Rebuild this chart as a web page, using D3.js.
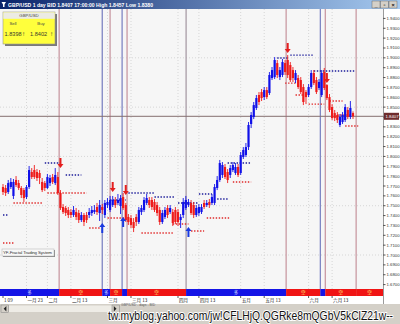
<!DOCTYPE html>
<html><head><meta charset="utf-8">
<script src="https://cdn.jsdelivr.net/npm/d3@7"></script>
<style>body{margin:0;background:#d4d0c8;overflow:hidden}svg{display:block;font-family:"Liberation Sans",Arial,sans-serif}</style>
</head><body><svg id="c" width="400" height="324"></svg>
<script>
const open=[1.7690,1.7680,1.7639,1.7690,1.7599,1.7761,1.7730,1.7680,1.7659,1.7588,
1.7690,1.7842,1.7862,1.7842,1.7832,1.7741,1.7730,1.7680,1.7730,1.7791,
1.7730,1.7791,1.7629,1.7487,1.7477,1.7457,1.7436,1.7406,1.7436,1.7426,
1.7355,1.7406,1.7406,1.7406,1.7426,1.7436,1.7487,1.7426,1.7487,1.7406,
1.7507,1.7457,1.7507,1.7558,1.7528,1.7497,1.7588,1.7507,1.7386,1.7375,
1.7335,1.7386,1.7335,1.7436,1.7457,1.7528,1.7558,1.7558,1.7538,1.7507,
1.7457,1.7335,1.7386,1.7477,1.7436,1.7436,1.7457,1.7436,1.7355,1.7406,
1.7477,1.7507,1.7528,1.7507,1.7406,1.7426,1.7436,1.7528,1.7507,1.7538,
1.7528,1.7528,1.7680,1.7761,1.7812,1.7893,1.7842,1.7812,1.7862,1.7832,
1.7893,1.7832,1.7994,1.8014,1.8095,1.8329,1.8400,1.8491,1.8623,1.8653,
1.8602,1.8673,1.8643,1.8795,1.8805,1.8947,1.8805,1.8826,1.8947,1.8978,
1.8927,1.8876,1.8775,1.8795,1.8775,1.8704,1.8653,1.8623,1.8704,1.8846,
1.8775,1.8694,1.8623,1.8856,1.8724,1.8602,1.8501,1.8440,1.8420,1.8319,
1.8349,1.8369,1.8471,1.8400,1.8440];
const high=[1.7720,1.7710,1.7761,1.7781,1.7771,1.7801,1.7761,1.7700,1.7680,1.7710,
1.7903,1.7882,1.7913,1.7872,1.7862,1.7781,1.7751,1.7822,1.7812,1.7822,
1.7882,1.7842,1.7659,1.7517,1.7497,1.7487,1.7467,1.7497,1.7477,1.7457,
1.7436,1.7426,1.7436,1.7477,1.7497,1.7507,1.7528,1.7558,1.7517,1.7558,
1.7578,1.7599,1.7599,1.7588,1.7619,1.7609,1.7629,1.7528,1.7416,1.7406,
1.7375,1.7416,1.7487,1.7507,1.7588,1.7619,1.7588,1.7588,1.7568,1.7538,
1.7487,1.7457,1.7487,1.7507,1.7507,1.7467,1.7487,1.7467,1.7416,1.7578,
1.7599,1.7568,1.7558,1.7538,1.7507,1.7517,1.7517,1.7558,1.7558,1.7568,
1.7619,1.7720,1.7801,1.7964,1.7943,1.7923,1.7872,1.7913,1.7943,1.7933,
1.7923,1.8045,1.8095,1.8136,1.8349,1.8450,1.8552,1.8623,1.8653,1.8684,
1.8704,1.8704,1.8856,1.8907,1.9008,1.8978,1.8907,1.8988,1.8978,1.9028,
1.8957,1.8907,1.8876,1.8826,1.8805,1.8734,1.8673,1.8734,1.8876,1.8876,
1.8805,1.8785,1.8876,1.8897,1.8734,1.8633,1.8531,1.8471,1.8450,1.8430,
1.8450,1.8531,1.8501,1.8562,1.8457];
const low=[1.7609,1.7599,1.7619,1.7670,1.7568,1.7690,1.7659,1.7578,1.7538,1.7568,
1.7670,1.7771,1.7771,1.7751,1.7720,1.7639,1.7649,1.7670,1.7700,1.7720,
1.7710,1.7609,1.7457,1.7416,1.7396,1.7375,1.7375,1.7386,1.7355,1.7325,
1.7335,1.7294,1.7325,1.7375,1.7396,1.7416,1.7406,1.7345,1.7416,1.7375,
1.7477,1.7436,1.7487,1.7477,1.7507,1.7416,1.7457,1.7335,1.7305,1.7274,
1.7233,1.7294,1.7315,1.7406,1.7436,1.7507,1.7477,1.7457,1.7436,1.7396,
1.7305,1.7315,1.7365,1.7375,1.7416,1.7294,1.7315,1.7294,1.7274,1.7375,
1.7457,1.7487,1.7406,1.7375,1.7386,1.7396,1.7416,1.7467,1.7487,1.7477,
1.7507,1.7507,1.7659,1.7741,1.7781,1.7771,1.7730,1.7781,1.7842,1.7812,
1.7791,1.7812,1.7974,1.7994,1.8065,1.8288,1.8379,1.8471,1.8521,1.8562,
1.8572,1.8582,1.8623,1.8775,1.8785,1.8795,1.8775,1.8805,1.8826,1.8795,
1.8755,1.8755,1.8744,1.8684,1.8633,1.8521,1.8531,1.8602,1.8684,1.8724,
1.8633,1.8673,1.8602,1.8673,1.8572,1.8450,1.8369,1.8359,1.8339,1.8298,
1.8329,1.8349,1.8379,1.8379,1.8380];
const close=[1.7639,1.7629,1.7730,1.7741,1.7741,1.7710,1.7680,1.7609,1.7578,1.7690,
1.7862,1.7791,1.7791,1.7781,1.7781,1.7659,1.7680,1.7791,1.7781,1.7741,
1.7812,1.7629,1.7477,1.7436,1.7426,1.7406,1.7406,1.7457,1.7386,1.7355,
1.7406,1.7335,1.7355,1.7436,1.7457,1.7457,1.7436,1.7507,1.7457,1.7528,
1.7538,1.7558,1.7558,1.7507,1.7558,1.7578,1.7477,1.7355,1.7335,1.7305,
1.7274,1.7335,1.7457,1.7477,1.7558,1.7578,1.7507,1.7487,1.7457,1.7426,
1.7335,1.7426,1.7457,1.7406,1.7477,1.7325,1.7335,1.7335,1.7386,1.7538,
1.7558,1.7538,1.7426,1.7406,1.7477,1.7487,1.7487,1.7487,1.7528,1.7507,
1.7588,1.7690,1.7761,1.7933,1.7913,1.7791,1.7761,1.7882,1.7913,1.7893,
1.7812,1.8014,1.8065,1.8095,1.8319,1.8420,1.8521,1.8592,1.8552,1.8592,
1.8673,1.8602,1.8826,1.8876,1.8978,1.8826,1.8876,1.8957,1.8856,1.8826,
1.8775,1.8795,1.8846,1.8704,1.8653,1.8552,1.8602,1.8704,1.8846,1.8744,
1.8653,1.8755,1.8846,1.8694,1.8592,1.8471,1.8389,1.8389,1.8369,1.8400,
1.8420,1.8501,1.8400,1.8491,1.8407];

const tickIdx=[0,9,17,26,40,49,67,75,91,100,117,126];
const tickLabels=["1 09","一月 23","二月","二月 13","三月","三月 13","四月","四月 13","五月","五月 13","六月","六月 13"];
const priceTicks=d3.range(167,195).map(v=>v/100);
const gridPrices=[1.70,1.75,1.80,1.85,1.90];

// fractal levels [startIdx, endIdx, price]
const resistLevels=[[0,2,1.7406],[16,22,1.7933],[24,30,1.7812],[41,47,1.7558],[48,58,1.7629],[58,66,1.7588],[67,75,1.7528],[75,80,1.7619],[82,86,1.7568],[86,95,1.7933],[105,109,1.8998],[110,119,1.9028],[119,135,1.8866]];
const supportLevels=[[0,4,1.7122],[4,15,1.7528],[17,32,1.7629],[33,37,1.7274],[40,47,1.7375],[53,65,1.7223],[65,71,1.7315],[72,77,1.7244],[78,87,1.7375],[88,95,1.7741],[108,112,1.8744],[112,115,1.8623],[117,123,1.8531],[125,130,1.8562],[128,134,1.8420],[131,136,1.8308]];

const sellArrowIdx=[22,42,47,109,124];
const sellArrowPrice=[1.7882,1.7639,1.7609,1.9049,1.8744];
const buyArrowIdx=[38,46,71];
const buyArrowPrice=[1.7325,1.7386,1.7284];

const signalIdx=[21.5,38,41,45.6,47.5,70.1,108.4,121.5,123.4,135.2];
const signalType=["S","B","S","B","S","X","S","B","S","S"];

const bidPrice=1.8407;
const titleText="GBP/USD 1 day BID 1.8407 17:00:00 High 1.8457 Low 1.8380";

const svg=d3.select("#c");
const W=400,H=324, L=0,R=383,T=9,B=289;
const N=open.length;
const x=d3.scaleLinear().domain([0,N-1]).range([3,353]);
const y=d3.scaleLinear().domain([1.67,1.94]).range([284.6,18.4]);

const defs=svg.append("defs");
const g1=defs.append("linearGradient").attr("id","tb");
g1.append("stop").attr("offset","0").attr("stop-color","#0a246a");
g1.append("stop").attr("offset","1").attr("stop-color","#a6caf0");
defs.append("clipPath").attr("id","pc").append("rect").attr("x",L).attr("y",T).attr("width",R-L).attr("height",B-T);

// backgrounds
svg.append("rect").attr("width",W).attr("height",H).attr("fill","#d4d0c8");
svg.append("rect").attr("x",L).attr("y",T).attr("width",R-L).attr("height",B-T).attr("fill","#f6f6f6");
svg.append("rect").attr("x",R).attr("y",T).attr("width",W-R).attr("height",B-T+16).attr("fill","#ffffff");

const plot=svg.append("g").attr("clip-path","url(#pc)");
// grid
plot.selectAll(".hg").data(gridPrices).join("line").attr("x1",L).attr("x2",R)
  .attr("y1",d=>y(d)).attr("y2",d=>y(d)).attr("stroke","#d6d6d6").attr("stroke-dasharray","1,2");
plot.selectAll(".vg").data(tickIdx.slice(1)).join("line").attr("y1",T).attr("y2",B)
  .attr("x1",d=>x(d)).attr("x2",d=>x(d)).attr("stroke","#d6d6d6").attr("stroke-dasharray","1,2");

// signal vertical lines
const sigColor={S:"#c99aa3",B:"#7f86c4",X:"#a89ca6"};
plot.selectAll(".sl").data(signalIdx).join("line").attr("x1",d=>x(d)).attr("x2",d=>x(d))
  .attr("y1",T).attr("y2",B).attr("stroke",(d,i)=>sigColor[signalType[i]]).attr("stroke-width",1.3);

// bid line
plot.append("line").attr("x1",L).attr("x2",R).attr("y1",y(bidPrice)).attr("y2",y(bidPrice)).attr("stroke","#857070").attr("stroke-width",1);

// fractal levels
plot.selectAll(".rl").data(resistLevels).join("line").attr("x1",d=>x(d[0])).attr("x2",d=>x(d[1]))
  .attr("y1",d=>y(d[2])).attr("y2",d=>y(d[2])).attr("stroke","#1c1c9a").attr("stroke-width",1.4).attr("stroke-dasharray","1.4,1.6");
plot.selectAll(".su").data(supportLevels).join("line").attr("x1",d=>x(d[0])).attr("x2",d=>x(d[1]))
  .attr("y1",d=>y(d[2])).attr("y2",d=>y(d[2])).attr("stroke","#e02a2a").attr("stroke-width",1.4).attr("stroke-dasharray","1.4,1.6");

// candles
const idx=d3.range(N);
const col=i=>close[i]>=open[i]?"#1010e8":"#ee1b1b";
plot.selectAll(".wk").data(idx).join("line").attr("x1",i=>x(i)).attr("x2",i=>x(i))
  .attr("y1",i=>y(high[i])).attr("y2",i=>y(low[i])).attr("stroke",col).attr("stroke-width",0.9);
plot.selectAll(".bd").data(idx).join("rect").attr("x",i=>x(i)-1.1).attr("width",2.2)
  .attr("y",i=>y(Math.max(open[i],close[i])))
  .attr("height",i=>Math.max(1,Math.abs(y(open[i])-y(close[i])))).attr("fill",col);

// arrows
const downArrow="M0,0L-3,-4L-1,-4L-1,-10L1,-10L1,-4L3,-4Z";
const upArrow="M0,0L-3,4L-1,4L-1,10L1,10L1,4L3,4Z";
plot.selectAll(".sa").data(sellArrowIdx).join("path").attr("d",downArrow)
  .attr("transform",(d,i)=>`translate(${x(d)},${y(sellArrowPrice[i])})`).attr("fill","#e41e1e");
plot.selectAll(".ba").data(buyArrowIdx).join("path").attr("d",upArrow)
  .attr("transform",(d,i)=>`translate(${x(d)},${y(buyArrowPrice[i])})`).attr("fill","#1a3ae0");

// bottom signal band
const bounds=[0,...signalIdx.map(d=>x(d)),R];
const bandTypes=["B",...signalType.map(t=>t==="X"?"B":t)];
const segs=[];
for(let i=0;i<bounds.length-1;i++){ if(bounds[i+1]>bounds[i]) segs.push({x0:bounds[i],x1:Math.min(bounds[i+1],R),t:bandTypes[i]}); }
svg.selectAll(".bs").data(segs).join("rect").attr("x",d=>d.x0).attr("width",d=>d.x1-d.x0)
  .attr("y",B).attr("height",7).attr("fill",d=>d.t==="S"?"#f01414":"#1414e6");
svg.selectAll(".bt").data(segs.filter(d=>d.x1-d.x0>5)).join("text").attr("x",d=>(d.x0+d.x1)/2).attr("y",B+5.3)
  .attr("text-anchor","middle").attr("font-size",4.5).attr("font-family","Noto Sans CJK SC")
  .attr("fill",d=>d.t==="S"?"#ffe070":"#c8d0ff").text(d=>d.t==="S"?"空":"多");

// date axis
svg.append("rect").attr("x",0).attr("y",B+7).attr("width",R).attr("height",8).attr("fill","#ffffff");
svg.selectAll(".dt").data(tickIdx).join("line").attr("x1",d=>x(d)).attr("x2",d=>x(d)).attr("y1",B+7).attr("y2",B+9).attr("stroke","#555");
svg.selectAll(".dl").data(tickIdx).join("text").attr("x",d=>x(d)+1).attr("y",B+12.7)
  .attr("font-size",4.6).attr("font-family","Noto Sans CJK SC").attr("fill","#222").text((d,i)=>tickLabels[i]);

// right axis
svg.append("line").attr("x1",R+0.5).attr("x2",R+0.5).attr("y1",T).attr("y2",B+15).attr("stroke","#9a9a9a");
svg.selectAll(".pt").data(priceTicks).join("line").attr("x1",R).attr("x2",R+2.5)
  .attr("y1",d=>y(d)).attr("y2",d=>y(d)).attr("stroke","#555");
svg.selectAll(".pl").data(priceTicks).join("text").attr("x",R+3.5).attr("y",d=>y(d)+1.5)
  .attr("font-size",4.3).attr("fill","#333").text(d=>d3.format(".4f")(d));
svg.append("rect").attr("x",R+1).attr("y",y(bidPrice)-3.5).attr("width",15).attr("height",7).attr("fill","#6e2c2c");
svg.append("text").attr("x",R+2.5).attr("y",y(bidPrice)+1.6).attr("font-size",4.3).attr("fill","#fff").text(d3.format(".4f")(bidPrice));

// yellow quote box
const qb=svg.append("g");
qb.append("rect").attr("x",5).attr("y",14).attr("width",52).attr("height",32).attr("fill","#7a7a7a");
qb.append("rect").attr("x",3).attr("y",12).attr("width",52).attr("height",32).attr("fill","#ffff3c").attr("stroke","#9a9a8a").attr("stroke-width",0.6);
qb.append("rect").attr("x",3.3).attr("y",12.3).attr("width",51.4).attr("height",6.5).attr("fill","#ecebe4");
qb.append("text").attr("x",29).attr("y",17.4).attr("text-anchor","middle").attr("font-size",4.3).attr("fill","#444").text("GBP/USD");
qb.append("text").attr("x",13).attr("y",24.5).attr("text-anchor","middle").attr("font-size",4.3).attr("fill","#444").text("Sell");
qb.append("text").attr("x",41).attr("y",24.5).attr("text-anchor","middle").attr("font-size",4.3).attr("fill","#444").text("Buy");
qb.append("text").attr("x",4.5).attr("y",36).attr("font-size",5.6).attr("fill","#3a3a2a").text("1.8398");
qb.append("text").attr("x",22).attr("y",36).attr("font-size",6.5).attr("fill","#3a3a2a").text("↑");
qb.append("text").attr("x",30).attr("y",36).attr("font-size",5.6).attr("fill","#3a3a2a").text("1.8402");
qb.append("text").attr("x",50).attr("y",36).attr("font-size",6.5).attr("fill","#3a3a2a").text("↑");

// YF label
svg.append("rect").attr("x",3).attr("y",250).attr("width",52).attr("height",7).attr("fill","#8a8a8a");
svg.append("rect").attr("x",2).attr("y",249).attr("width",52).attr("height",7).attr("fill","#f8f8f8").attr("stroke","#b0b0b0").attr("stroke-width",0.5);
svg.append("text").attr("x",3).attr("y",254.3).attr("font-size",4.4).attr("fill","#333").attr("textLength",49).text("YF-Fractal Trading System");

// title bar
svg.append("rect").attr("x",0).attr("y",0).attr("width",W).attr("height",T).attr("fill","url(#tb)");
svg.append("path").attr("d","M1.5,2L6,2L4.5,4.5L4.5,7L3,7L3,4.5Z").attr("fill","#fff");
svg.append("text").attr("x",8).attr("y",6.6).attr("font-size",5.6).attr("font-weight","bold").attr("fill","#fff")
  .attr("textLength",145).attr("lengthAdjust","spacingAndGlyphs").text(titleText);
[372,380.5,389].forEach((bx,i)=>{
  svg.append("rect").attr("x",bx).attr("y",1).attr("width",8).attr("height",7).attr("fill","#d4d0c8").attr("stroke","#555").attr("stroke-width",0.4);
  svg.append("text").attr("x",bx+4).attr("y",6.6).attr("text-anchor","middle").attr("font-size",5.5).attr("font-weight","bold").attr("fill","#111").text(["_","▫","×"][i]);
});

// scrollbar / status area
svg.append("rect").attr("x",0).attr("y",B+15).attr("width",W).attr("height",H-B-15).attr("fill","#d4d0c8");
svg.append("rect").attr("x",9).attr("y",B+16.5).attr("width",103).attr("height",6.5).attr("fill","#eeece6");
[[1,"M6,0L3,3L6,6Z"],[112,"M2,0L5,3L2,6Z"]].forEach(([bx,p])=>{
  svg.append("rect").attr("x",bx).attr("y",B+16).attr("width",7.5).attr("height",7.5).attr("fill","#d4d0c8").attr("stroke","#808080").attr("stroke-width",0.5);
  svg.append("path").attr("d",p).attr("fill","#222").attr("transform",`translate(${bx},${B+17}) scale(0.9)`);
});
svg.append("text").attr("x",121).attr("y",305.6).attr("font-size",3.4).attr("fill","#555").text("GBP/USD - days - BID");

// watermark (narrow tall lettering: scaled vertically)
svg.append("text").attr("transform","translate(108,320) scale(1,1.3)").attr("x",0).attr("y",0)
  .attr("font-size",10.4).attr("fill","#111")
  .attr("stroke","#ffffff").attr("stroke-width",1.5).attr("paint-order","stroke")
  .attr("textLength",285).attr("lengthAdjust","spacingAndGlyphs")
  .text("tw.myblog.yahoo.com/jw!CFLHjQ.QGRke8mQGbV5kClZ21w--");
</script></body></html>
